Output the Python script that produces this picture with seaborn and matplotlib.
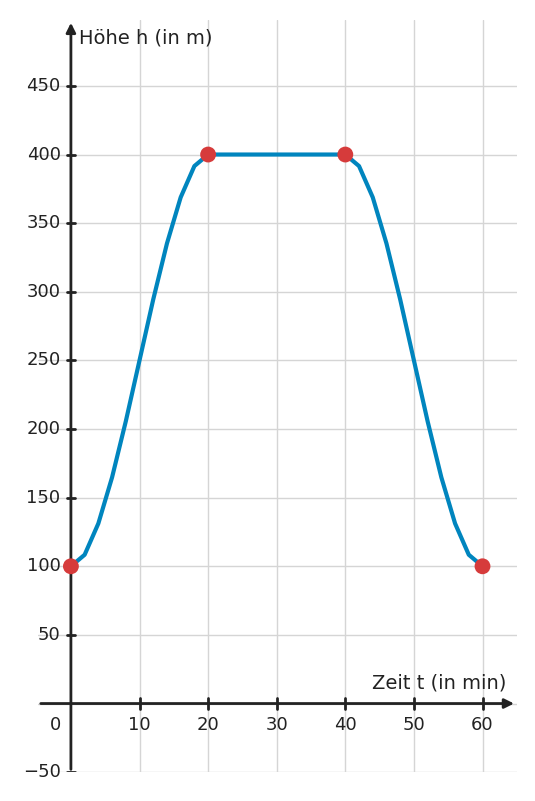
import matplotlib
matplotlib.use("Agg")
import matplotlib.pyplot as plt
import seaborn as sns
import pandas as pd

t = [0,2,4,6,8,10,12,14,16,18,20,25,30,35,40,42,44,46,48,50,52,54,56,58,60]
h = [100,108.4,131.2,164.8,205.6,250,294.4,335.2,368.8,391.6,400,400,400,400,400,
     391.6,368.8,335.2,294.4,250,205.6,164.8,131.2,108.4,100]
pts_t = [0,20,40,60]
pts_h = [100,400,400,100]
xticks = [10,20,30,40,50,60]
yticks = [-50,50,100,150,200,250,300,350,400,450]

sns.set_style("white")
fig = plt.figure(figsize=(5.35,8.01), dpi=100)
ax = fig.add_axes([0.071,0.036,0.895,0.939])
ax.set_xlim(-4.8,65)
ax.set_ylim(-50,498)
for x in xticks:
    ax.axvline(x,color="#d5d5d5",lw=1,zorder=0)
for y in yticks+[0]:
    ax.axhline(y,color="#d5d5d5",lw=1,zorder=0)
df = pd.DataFrame({"t":t,"h":h})
sns.lineplot(data=df,x="t",y="h",ax=ax,color="#0085be",lw=3,zorder=3)
sns.scatterplot(x=pts_t,y=pts_h,ax=ax,color="#d63b3b",s=130,edgecolor="none",zorder=4)
for s in ax.spines.values():
    s.set_visible(False)
ax.set_xticks([]); ax.set_yticks([])
ax.set_xlabel(""); ax.set_ylabel("")
c="#222222"
ax.annotate("",xy=(65,0),xytext=(-4.8,0),arrowprops=dict(arrowstyle="-|>",color=c,lw=2,mutation_scale=14),annotation_clip=False)
ax.annotate("",xy=(0,498),xytext=(0,-50),arrowprops=dict(arrowstyle="-|>",color=c,lw=2,mutation_scale=14),annotation_clip=False)
for x in xticks:
    ax.plot([x,x],[-4,4],color=c,lw=2)
    ax.text(x,-9,str(x),ha="center",va="top",fontsize=13,color=c)
ax.text(-2.3,-9,"0",ha="center",va="top",fontsize=13,color=c)
for y in yticks:
    ax.plot([-0.6,0.6],[y,y],color=c,lw=2)
    ax.text(-1.5,y,"−50" if y<0 else str(y),ha="right",va="center",fontsize=13,color=c)
ax.text(1.2,485,"Höhe h (in m)",ha="left",va="center",fontsize=14,color=c)
ax.text(63.5,15,"Zeit t (in min)",ha="right",va="center",fontsize=14,color=c)
fig.savefig("out.png",dpi=100)
